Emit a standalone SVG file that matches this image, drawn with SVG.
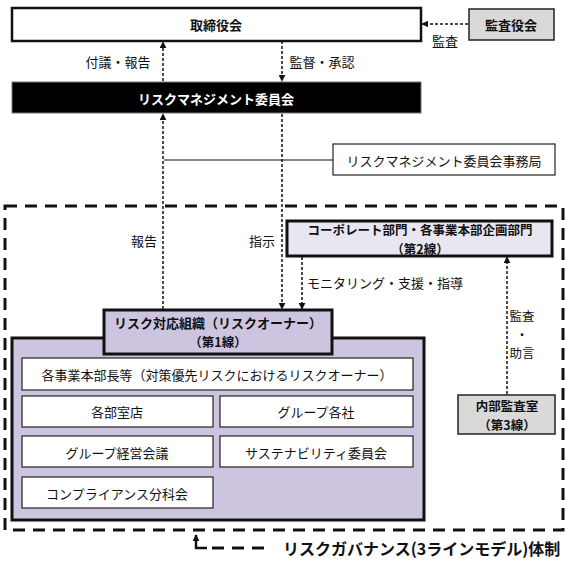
<svg xmlns="http://www.w3.org/2000/svg" width="569" height="561" viewBox="0 0 569 561">
<style>
text{font-family:"Noto Sans CJK JP","Noto Sans",sans-serif;font-size:13px;fill:#111;text-anchor:middle;dominant-baseline:central}
.b{font-weight:bold}
.w{fill:#fff}
.t2{font-size:12.5px}
.box{fill:#fff;stroke:#111;stroke-width:2.5}
.thin{fill:#fff;stroke:#222;stroke-width:1.2}
.gray{fill:#d9d9d9;stroke:#222;stroke-width:1.5}
.lav{fill:#cdc5df;stroke:#111;stroke-width:3}
.lav2{fill:#e8e6f1;stroke:#111;stroke-width:3}
.arr{fill:none;stroke:#111;stroke-width:1.5;stroke-dasharray:3 2}
.big{fill:none;stroke:#111;stroke-width:3;stroke-dasharray:12 8}
</style>
<defs>
<marker id="ah" viewBox="0 0 10 10" refX="9" refY="5" markerWidth="7" markerHeight="7" markerUnits="userSpaceOnUse" orient="auto">
<path d="M0,0 L10,5 L0,10 Z" fill="#111"/>
</marker>
</defs>
<rect width="569" height="561" fill="#fff"/>
<g id="governance-frame">
<rect class="big" x="5" y="206" width="558" height="324"/>
</g>
<g id="board"><rect class="box" x="12" y="8" width="409" height="33"/><text class="b" x="216" y="24">取締役会</text></g>
<g id="auditors"><rect class="gray" x="469" y="9" width="85" height="31"/><text class="b" x="511" y="24">監査役会</text></g>
<g id="rm-committee"><rect x="12" y="82" width="409" height="31" fill="#000" stroke="#777" stroke-width="1"/><text class="b w" x="216" y="98">リスクマネジメント委員会</text></g>
<g id="rm-secretariat"><rect class="thin" x="333" y="144" width="222" height="31"/><text x="444" y="160">リスクマネジメント委員会事務局</text></g>
<g id="second-line"><rect class="lav2" x="287" y="221" width="265" height="35"/><text class="b t2" x="420" y="229">コーポレート部門・各事業本部企画部門</text><text class="b t2" x="420" y="248">（第2線）</text></g>
<g id="third-line"><rect class="gray" x="458" y="395" width="97" height="39"/><text class="b t2" x="507" y="405.5">内部監査室</text><text class="b t2" x="507" y="424.5">（第3線）</text></g>
<g id="first-line">
<rect class="lav" x="12" y="338" width="412" height="182" stroke-width="2.5"/>
<rect class="lav" x="104" y="310" width="228" height="44"/>
<text class="b" x="218" y="322">リスク対応組織（リスクオーナー）</text>
<text class="b t2" x="218" y="341">（第1線）</text>
</g>
<g id="row-owners"><rect class="thin" x="22" y="358" width="391" height="32" stroke="#777"/><text x="217" y="374">各事業本部長等（対策優先リスクにおけるリスクオーナー）</text></g>
<g id="depts"><rect class="thin" x="22" y="396" width="191" height="31"/><text x="117" y="411">各部室店</text></g>
<g id="group-cos"><rect class="thin" x="220" y="396" width="193" height="31"/><text x="316" y="411">グループ各社</text></g>
<g id="group-mgmt"><rect class="thin" x="22" y="436" width="191" height="31"/><text x="117" y="452">グループ経営会議</text></g>
<g id="sustainability"><rect class="thin" x="220" y="436" width="193" height="31"/><text x="316" y="452">サステナビリティ委員会</text></g>
<g id="compliance"><rect class="thin" x="22" y="477" width="191" height="31"/><text x="117" y="493">コンプライアンス分科会</text></g>
<g id="connectors">
<line class="arr" x1="468" y1="24" x2="422" y2="24" marker-end="url(#ah)"/>
<line class="arr" x1="163" y1="81" x2="163" y2="42" marker-end="url(#ah)"/>
<line class="arr" x1="282" y1="41" x2="282" y2="81" marker-end="url(#ah)"/>
<line class="arr" x1="163" y1="309" x2="163" y2="114" marker-end="url(#ah)"/>
<line class="arr" x1="282" y1="114" x2="282" y2="309" marker-end="url(#ah)"/>
<line class="arr" x1="302" y1="257" x2="302" y2="309" marker-end="url(#ah)"/>
<line class="arr" x1="507" y1="394" x2="507" y2="257" marker-end="url(#ah)"/>
<line x1="164" y1="160" x2="333" y2="160" stroke="#111" stroke-width="1.2"/>
<path d="M207,548 H196 V535" fill="none" stroke="#111" stroke-width="2.5" marker-end="url(#ah)"/>
<line x1="212" y1="548" x2="272" y2="548" stroke="#111" stroke-width="3" stroke-dasharray="12 8"/>
</g>
<g id="labels">
<text x="445" y="40">監査</text>
<text x="118" y="61">付議・報告</text>
<text x="322" y="61">監督・承認</text>
<text x="144" y="240">報告</text>
<text x="262" y="240">指示</text>
<text x="307" y="282" style="text-anchor:start">モニタリング・支援・指導</text>
<text class="t2" x="522" y="315.5">監査</text>
<text class="t2" x="522" y="334">・</text>
<text class="t2" x="522" y="352.5">助言</text>
<text class="b" x="283" y="548" style="text-anchor:start;font-size:16px">リスクガバナンス(3ラインモデル)体制</text>
</g>
</svg>
